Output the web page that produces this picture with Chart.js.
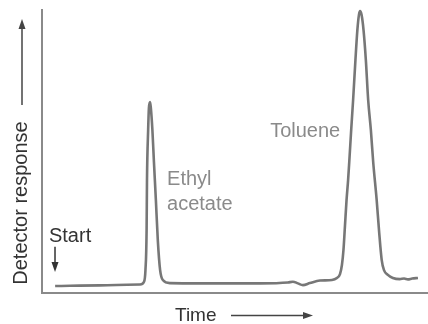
<!DOCTYPE html>
<html>
<head>
<meta charset="utf-8">
<script src="https://cdn.jsdelivr.net/npm/chart.js@4.4.1/dist/chart.umd.min.js"></script>
<style>
  html, body { margin: 0; padding: 0; background: #fff; }
  #wrap { width: 428px; height: 324px; }
</style>
</head>
<body>
<div id="wrap"><canvas id="c" width="428" height="324"></canvas></div>
<script>
// Chromatogram trace (arbitrary units)
const time = [3.4, 15.0, 25.4, 26.4, 26.8, 27.1, 27.2, 27.5, 27.7, 28.0, 28.2, 28.6, 29.0, 29.5, 30.0, 30.6, 31.3, 33.2, 40.9, 56.5, 63.7, 65.0, 66.3, 67.6, 69.4, 72.0, 75.1, 76.4, 77.2, 77.7, 78.1, 78.5, 78.9, 79.3, 79.6, 80.1, 80.6, 81.2, 81.7, 82.1, 82.4, 82.8, 83.3, 83.9, 84.5, 85.2, 85.8, 86.7, 87.3, 88.0, 88.6, 89.6, 90.9, 92.7, 93.8, 94.8, 95.9, 97.4];
const response = [2.5, 2.7, 3.0, 3.9, 8.1, 22.3, 39.9, 57.6, 65.4, 67.5, 65.4, 57.6, 46.3, 32.9, 18.7, 8.1, 4.6, 3.5, 3.4, 3.4, 3.7, 4.0, 3.4, 2.8, 3.5, 4.4, 4.6, 5.3, 6.7, 9.9, 15.2, 24.0, 32.9, 39.9, 46.3, 57.6, 68.2, 82.3, 92.9, 98.2, 99.6, 98.2, 92.9, 82.3, 68.2, 57.6, 46.3, 32.9, 22.3, 11.7, 8.1, 6.4, 5.3, 4.9, 5.1, 4.8, 5.1, 5.3];
const peakLabels = [
  { lines: ["Toluene"], x: 59.1, y: 55.1, color: "#8a8a8a" },
  { lines: ["Ethyl", "acetate"], x: 32.4, y: 38.2, color: "#8a8a8a" },
  { lines: ["Start"], x: 1.8, y: 18.0, color: "#333333" }
];
const startArrow = { x: 3.37, yFrom: 16.3, yTo: 7.4 };
const xTitle = "Time";
const yTitle = "Detector response";

const points = time.map((t, i) => ({ x: t, y: response[i] }));

function arrow(ctx, x1, y1, x2, y2, color) {
  const ang = Math.atan2(y2 - y1, x2 - x1);
  const hl = 10, hw = 3.5;
  ctx.save();
  ctx.strokeStyle = color; ctx.fillStyle = color; ctx.lineWidth = 1.5;
  ctx.beginPath();
  ctx.moveTo(x1, y1);
  ctx.lineTo(x2 - Math.cos(ang) * hl * 0.8, y2 - Math.sin(ang) * hl * 0.8);
  ctx.stroke();
  ctx.beginPath();
  ctx.moveTo(x2, y2);
  ctx.lineTo(x2 - Math.cos(ang) * hl + Math.sin(ang) * hw, y2 - Math.sin(ang) * hl - Math.cos(ang) * hw);
  ctx.lineTo(x2 - Math.cos(ang) * hl - Math.sin(ang) * hw, y2 - Math.sin(ang) * hl + Math.cos(ang) * hw);
  ctx.closePath();
  ctx.fill();
  ctx.restore();
}

const annot = {
  id: 'annot',
  afterDraw(chart) {
    const ctx = chart.ctx;
    const xs = chart.scales.x, ys = chart.scales.y;
    ctx.save();
    ctx.font = '20px "Liberation Sans", Arial, sans-serif';
    ctx.textBaseline = 'alphabetic';
    ctx.textAlign = 'left';
    peakLabels.forEach(l => {
      ctx.fillStyle = l.color;
      const px = xs.getPixelForValue(l.x);
      const py = ys.getPixelForValue(l.y);
      l.lines.forEach((s, i) => ctx.fillText(s, px, py + i * 25));
    });
    // start arrow
    arrow(ctx, xs.getPixelForValue(startArrow.x), ys.getPixelForValue(startArrow.yFrom),
          xs.getPixelForValue(startArrow.x), ys.getPixelForValue(startArrow.yTo), '#333');
    // y title
    ctx.fillStyle = '#333';
    ctx.save();
    ctx.translate(27, 203);
    ctx.rotate(-Math.PI / 2);
    ctx.textAlign = 'center';
    ctx.fillText(yTitle, 0, 0);
    ctx.restore();
    arrow(ctx, 22, 105, 22, 19, '#444');
    // x title
    ctx.font = '19px "Liberation Sans", Arial, sans-serif';
    ctx.textAlign = 'left';
    ctx.fillText(xTitle, 175, 321);
    arrow(ctx, 231, 315.5, 313, 315.5, '#444');
    ctx.restore();
  }
};

new Chart(document.getElementById('c'), {
  type: 'scatter',
  data: {
    datasets: [{
      data: points,
      showLine: true,
      borderColor: '#777777',
      borderWidth: 2.6,
      pointRadius: 0,
      fill: false,
      cubicInterpolationMode: 'monotone',
      clip: false
    }]
  },
  options: {
    responsive: false,
    animation: false,
    devicePixelRatio: 1,
    layout: { padding: { left: 42, top: 10, right: 0, bottom: 31 } },
    plugins: { legend: { display: false }, tooltip: { enabled: false } },
    scales: {
      x: {
        type: 'linear', min: 0, max: 100,
        grid: { display: false, drawTicks: false },
        ticks: { display: false },
        border: { display: true, color: '#8a8a8a', width: 2 }
      },
      y: {
        type: 'linear', min: 0, max: 100,
        grid: { display: false, drawTicks: false },
        ticks: { display: false },
        border: { display: true, color: '#8a8a8a', width: 2 }
      }
    }
  },
  plugins: [annot]
});
</script>
</body>
</html>
